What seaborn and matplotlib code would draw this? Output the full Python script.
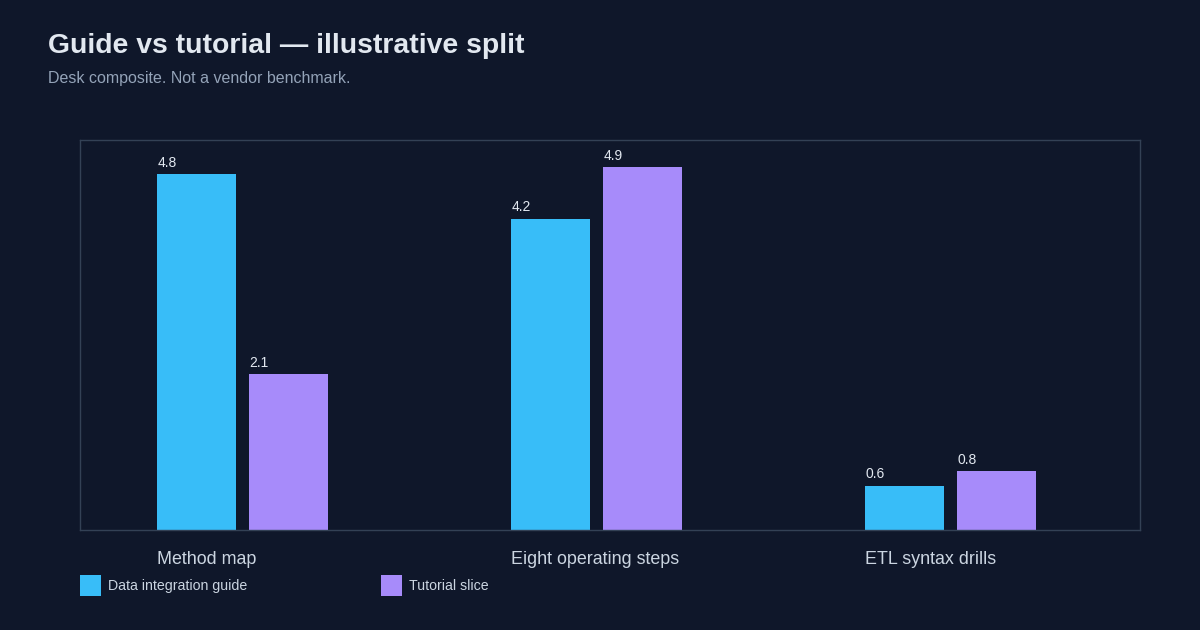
import pandas as pd
import numpy as np
import matplotlib.pyplot as plt
import seaborn as sns
from matplotlib.patches import Patch

#dados
categories = ['Method map', 'Eight operating steps', 'ETL syntax drills']
series = ['Data integration guide', 'Tutorial slice']
guide_vals = [4.8, 4.2, 0.6]
tutorial_vals = [2.1, 4.9, 0.8]
colors = ['#38bdf8', '#a78bfa']

df = pd.DataFrame({
    'category': categories * 2,
    'series': [series[0]] * 3 + [series[1]] * 3,
    'value': guide_vals + tutorial_vals,
})

bg = '#0f172a'
sns.set_theme(style='white')
plt.rcParams['font.family'] = ['Liberation Sans', 'DejaVu Sans']

fig = plt.figure(figsize=(12, 6.3), dpi=100, facecolor=bg)
ax = fig.add_axes([80/1200, 1-530/630, 1060/1200, 390/630])
ax.set_facecolor(bg)

width = 0.52
gap = 0.142
sns.barplot(df, x='category', y='value', hue='series', order=categories,
            hue_order=series, palette=colors, width=width, gap=gap,
            saturation=1, linewidth=0, ax=ax, legend=False)

ax.set_xlim(-0.459, 2.536)
ax.set_ylim(0, 5.26)
ax.set_yticks([])
ax.set_xlabel('')
ax.set_ylabel('')

#rotulos das categorias alinhados a esquerda da primeira barra
bw = width / 2 * (1 - gap)
left_pos = [i - width / 4 - bw / 2 for i in range(len(categories))]
ax.set_xticks(left_pos)
ax.set_xticklabels(categories, ha='left', color='#cbd5e1', fontsize=12.9)
ax.tick_params(axis='x', length=0, pad=15)

for s in ax.spines.values():
    s.set_color('#334155')
    s.set_linewidth(1)

#valores acima das barras
for bar in ax.patches:
    h = bar.get_height()
    if h <= 0:
        continue
    ax.annotate(f'{h:.1f}', (bar.get_x(), h), xytext=(0.5, 3),
                textcoords='offset points', ha='left', va='bottom',
                color='#e2e8f0', fontsize=10)

fig.text(48/1200, 1-46/630, 'Guide vs tutorial — illustrative split',
         fontsize=20.4, fontweight='bold', color='#e2e8f0', va='center')
fig.text(48/1200, 1-78/630, 'Desk composite. Not a vendor benchmark.',
         fontsize=11.5, color='#94a3b8', va='center')

handles = [Patch(facecolor=c, edgecolor='none') for c in colors]
leg = fig.legend(handles, series, loc='upper left', ncol=2,
                 bbox_to_anchor=(80/1200, 1-575/630), frameon=False,
                 fontsize=10.2, handlelength=1.45, handleheight=1.9,
                 handletextpad=0.5, columnspacing=9.5, borderpad=0,
                 borderaxespad=0)
for t in leg.get_texts():
    t.set_color('#cbd5e1')

fig.savefig('out.png', dpi=100, facecolor=bg)
